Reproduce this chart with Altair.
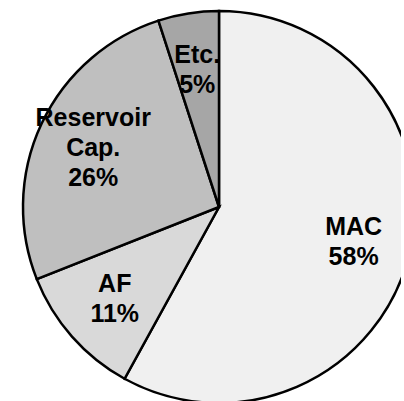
import altair as alt
import pandas as pd

# Slice data, clockwise from 12 o'clock
categories = ["MAC", "AF", "Reservoir Cap.", "Etc."]
shares = [58, 11, 26, 5]
label_lines = ["MAC\n58%", "AF\n11%", "Reservoir\nCap.\n26%", "Etc.\n5%"]
fills = ["#f0f0f0", "#d9d9d9", "#bfbfbf", "#a6a6a6"]

df = pd.DataFrame({
    "category": categories,
    "share": shares,
    "label": label_lines,
    "idx": list(range(len(categories))),
})

LINE_H = 30

base = alt.Chart(df).encode(
    theta=alt.Theta("share:Q", stack=True),
    order=alt.Order("idx:Q"),
)

arcs = base.mark_arc(radius=196, stroke="black", strokeWidth=2.5).encode(
    color=alt.Color(
        "category:N",
        scale=alt.Scale(domain=categories, range=fills),
        legend=None,
    )
)

text_style = dict(
    radius=139,
    font="Liberation Sans",
    fontSize=25,
    fontWeight="bold",
    lineBreak="\n",
    lineHeight=LINE_H,
    align="center",
    baseline="middle",
    color="black",
)


def label_layer(n_lines):
    # Vega anchors the first line; shift so the whole block is centred
    return (
        base.transform_calculate(nl="split(datum.label, '\\n').length")
        .mark_text(dy=-(n_lines - 1) * LINE_H / 2, **text_style)
        .encode(
            text="label:N",
            opacity=alt.condition(
                f"datum.nl == {n_lines}", alt.value(1), alt.value(0)
            ),
        )
    )


chart = (
    alt.layer(arcs, label_layer(2), label_layer(3))
    .properties(
        width=364,
        height=388,
        autosize="none",
        padding={"left": 37, "top": 13, "right": 0, "bottom": 0},
        background="white",
    )
    .configure_view(stroke=None)
)

chart.save("out.html", embed_options={"renderer": "svg", "actions": False})
